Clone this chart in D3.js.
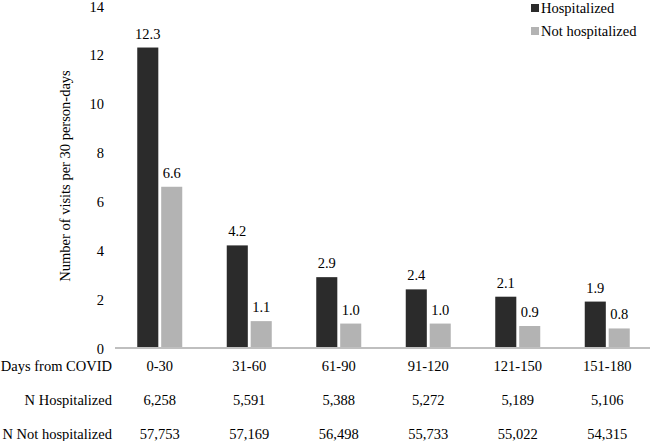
<!DOCTYPE html>
<html><head><meta charset="utf-8">
<script src="https://cdn.jsdelivr.net/npm/d3@7"></script>
<style>body{margin:0;background:#fff}svg{display:block}</style>
</head><body><svg id="c" width="650" height="441"></svg>
<script>
const categories=["0-30","31-60","61-90","91-120","121-150","151-180"];
const hospitalized=[12.3,4.2,2.9,2.4,2.1,1.9];
const notHospitalized=[6.6,1.1,1.0,1.0,0.9,0.8];
const nHospitalized=["6,258","5,591","5,388","5,272","5,189","5,106"];
const nNotHospitalized=["57,753","57,169","56,498","55,733","55,022","54,315"];
const yTicks=[0,2,4,6,8,10,12,14];
const seriesNames=["Hospitalized","Not hospitalized"];
const colors=["#2b2b2b","#b3b3b3"];
const FONT='"Liberation Serif"';
const FS="14.5px";

const svg=d3.select("#c");
const x=d3.scaleBand().domain(categories).range([115,652]).paddingInner(0).paddingOuter(0);
const y=d3.scaleLinear().domain([0,14]).range([348,6]);
const sub=d3.scaleBand().domain([0,1]).range([0,45]).paddingInner(0.12);
const off=(x.bandwidth()-45)/2;

const ya=svg.append("g").attr("transform","translate(104,0)").call(d3.axisLeft(y).tickValues(yTicks).tickSize(0).tickPadding(0));
ya.select(".domain").remove();
ya.attr("font-family",null).attr("font-size",null);
ya.selectAll("text").style("font-family",FONT).style("font-size",FS).attr("fill","#000").attr("dy","0.35em");

svg.append("text").attr("transform","translate(70,176) rotate(-90)").attr("text-anchor","middle")
  .style("font-family",FONT).style("font-size",FS).text("Number of visits per 30 person-days");

const series=[hospitalized,notHospitalized];
series.forEach((vals,si)=>{
  const g=svg.append("g");
  g.selectAll("rect").data(vals).join("rect")
   .attr("x",(d,i)=>x(categories[i])+off+sub(si)).attr("width",sub.bandwidth())
   .attr("y",d=>y(d)).attr("height",d=>y(0)-y(d)).attr("fill",colors[si]);
  g.selectAll("text").data(vals).join("text")
   .attr("x",(d,i)=>x(categories[i])+off+sub(si)+sub.bandwidth()/2).attr("y",d=>y(d)-9)
   .attr("text-anchor","middle").style("font-family",FONT).style("font-size",FS).text(d=>d.toFixed(1));
});

svg.append("line").attr("x1",115).attr("x2",650).attr("y1",y(0)).attr("y2",y(0)).attr("stroke","#bfbfbf").attr("stroke-width",2);

const rows=[["Days from COVID",categories,366],["N Hospitalized",nHospitalized,400],["N Not hospitalized",nNotHospitalized,434]];
rows.forEach(([lab,vals,yy])=>{
  svg.append("text").attr("x",112).attr("y",yy).attr("dy","0.35em").attr("text-anchor","end")
    .style("font-family",FONT).style("font-size",FS).text(lab);
  svg.append("g").selectAll("text").data(vals).join("text")
   .attr("x",(d,i)=>x(categories[i])+x.bandwidth()/2).attr("y",yy).attr("dy","0.35em")
   .attr("text-anchor","middle").style("font-family",FONT).style("font-size",FS).text(d=>d);
});

const lg=svg.append("g");
seriesNames.forEach((n,i)=>{
  lg.append("rect").attr("x",531).attr("y",4+i*23).attr("width",8).attr("height",8).attr("fill",colors[i]);
  lg.append("text").attr("x",541).attr("y",8+i*23).attr("dy","0.35em")
    .style("font-family",FONT).style("font-size",FS).text(n);
});
</script></body></html>
